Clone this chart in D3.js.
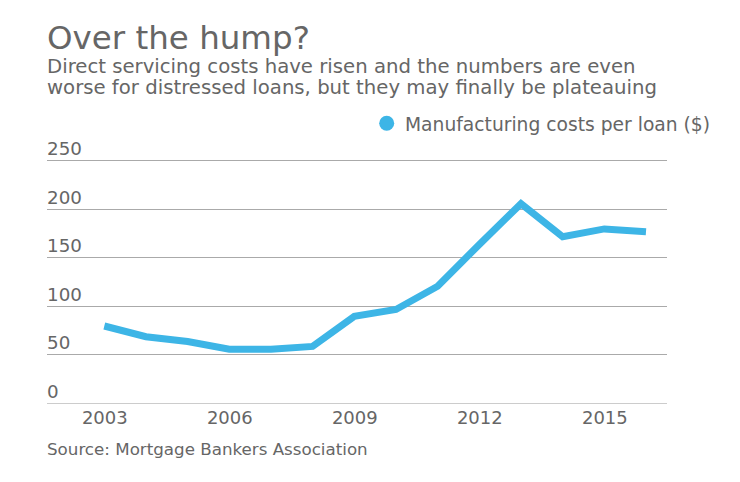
<!DOCTYPE html>
<html><head><meta charset="utf-8">
<script src="https://cdn.jsdelivr.net/npm/d3@7"></script>
<style>
body{margin:0;background:#fff;}
text{font-family:"DejaVu Sans",Verdana,sans-serif;fill:#666;}
</style></head><body>
<svg id="c" width="740" height="482"></svg>
<script>
const years = [2003,2004,2005,2006,2007,2008,2009,2010,2011,2012,2013,2014,2015,2016];
const costs = [79,68,63,55,55,58,89,96,120,163,205,171,179,176];
const yTicks = [0,50,100,150,200,250];
const xTicks = [2003,2006,2009,2012,2015];
const title = "Over the hump?";
const subtitle = ["Direct servicing costs have risen and the numbers are even","worse for distressed loans, but they may finally be plateauing"];
const seriesName = "Manufacturing costs per loan ($)";
const source = "Source: Mortgage Bankers Association";

const svg = d3.select("#c");
const mLeft = 47, mRight = 667, mTop = 160, mBottom = 402.7;
const x = d3.scaleLinear().domain([2003,2016]).range([104.3,646]);
const y = d3.scaleLinear().domain([0,250]).range([mBottom, mTop]);

svg.append("text").attr("x",mLeft).attr("y",48.5).attr("font-size",32.5).text(title);
subtitle.forEach((s,i)=>svg.append("text").attr("x",mLeft).attr("y",72.7+i*21.7).attr("font-size",19.7).text(s));

// grid
const grid = svg.append("g");
grid.selectAll("line").data(yTicks).join("line")
  .attr("x1",mLeft).attr("x2",mRight).attr("y1",d=>Math.round(y(d))+0.5).attr("y2",d=>Math.round(y(d))+0.5)
  .attr("stroke",d=>d===0?"#ccc":"#aaa").attr("stroke-width",1);
grid.selectAll("text").data(yTicks).join("text")
  .attr("x",mLeft).attr("y",d=>y(d)-5).attr("font-size",18.3).text(d=>d);

// x axis labels
const xa = svg.append("g").attr("transform",`translate(0,${mBottom})`)
  .call(d3.axisBottom(x).tickValues(xTicks).tickFormat(d3.format("d")).tickSize(0).tickPadding(9));
xa.select(".domain").remove();
xa.selectAll("text").attr("font-size",18).attr("fill","#666").style("font-family",'"DejaVu Sans",Verdana,sans-serif');

// line
svg.append("path").datum(years.map((yr,i)=>[yr,costs[i]]))
  .attr("fill","none").attr("stroke","#3db5e6").attr("stroke-width",7)
  .attr("stroke-linejoin","miter")
  .attr("d",d3.line().x(d=>x(d[0])).y(d=>y(d[1])));

// legend
svg.append("circle").attr("cx",386.7).attr("cy",123.3).attr("r",7.5).attr("fill","#3db5e6");
svg.append("text").attr("x",405).attr("y",131).attr("font-size",18.7).text(seriesName);

svg.append("text").attr("x",mLeft).attr("y",455).attr("font-size",16.7).text(source);
</script></body></html>
